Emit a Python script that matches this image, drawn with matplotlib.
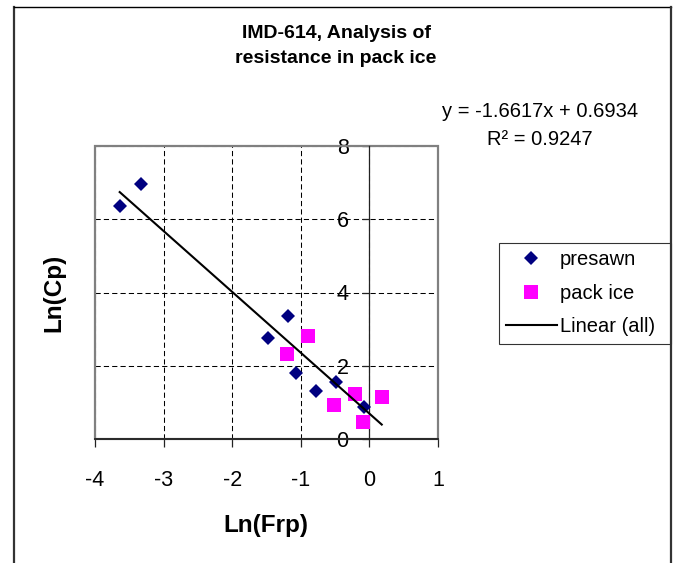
import matplotlib
matplotlib.use("Agg")
import matplotlib.pyplot as plt
from matplotlib.lines import Line2D
from matplotlib.patches import Rectangle
import numpy as np

plt.rcParams['font.family'] = ['Liberation Sans', 'DejaVu Sans']
plt.rcParams['axes.unicode_minus'] = False

# ---- data ----
presawn_x = [-3.64, -3.33, -1.19, -1.48, -1.07, -0.78, -0.49, -0.08]
presawn_y = [6.37, 6.96, 3.36, 2.77, 1.81, 1.32, 1.55, 0.88]
pack_x = [-0.90, -1.20, -0.21, -0.51, 0.18, -0.10]
pack_y = [2.81, 2.32, 1.23, 0.93, 1.15, 0.46]
slope = -1.6617
intercept = 0.6934
r2 = 0.9247
x_ticks = [-4, -3, -2, -1, 0, 1]
y_ticks = [0, 2, 4, 6, 8]

title = "IMD-614, Analysis of\nresistance in pack ice"
xlabel = "Ln(Frp)"
ylabel = "Ln(Cp)"

W, H = 676, 563
fig = plt.figure(figsize=(W / 100, H / 100), dpi=100)
ax = fig.add_axes([95 / W, 1 - 439 / H, 343 / W, 293 / H])

ax.set_xlim(-4, 1)
ax.set_ylim(0, 8)
ax.set_xticks(x_ticks)
ax.set_yticks(y_ticks)
ax.set_xticklabels([str(v) for v in x_ticks])
ax.set_yticklabels([str(v) for v in y_ticks])

for s in ['top', 'right']:
    ax.spines[s].set_visible(False)
ax.spines['left'].set_position(('data', 0))
ax.spines['left'].set_color('#222222')
ax.spines['left'].set_linewidth(0.9)
ax.spines['bottom'].set_color('#222222')
ax.spines['bottom'].set_linewidth(1.3)
ax.spines['left'].set_zorder(2.6)
ax.spines['bottom'].set_zorder(2.6)

ax.add_patch(Rectangle((0, 0), 1, 1, transform=ax.transAxes, fill=False,
                       ec='#808080', lw=1.6, clip_on=False, zorder=2.5))

ax.set_axisbelow(True)
ax.grid(True, color='black', lw=0.75, linestyle=(0, (5, 3)))

ax.tick_params(axis='y', direction='out', length=5, width=0.9, pad=10,
               labelsize=15.5, color='#222222')
ax.tick_params(axis='x', direction='out', length=5.5, width=0.9, pad=17,
               labelsize=15.5, color='#222222')

xs_all = np.array(presawn_x + pack_x)
xl = np.array([xs_all.min(), xs_all.max()])
ax.plot(xl, slope * xl + intercept, color='black', lw=1.5, zorder=4,
        label='Linear (all)')
ax.plot(presawn_x, presawn_y, linestyle='none', marker='D', ms=7.5,
        mfc='#000080', mec='#000080', mew=0, zorder=3, label='presawn')
ax.plot(pack_x, pack_y, linestyle='none', marker='s', ms=10.5,
        mfc='#FF00FF', mec='#FF00FF', mew=0, zorder=3, label='pack ice')

handles, labels = ax.get_legend_handles_labels()
order = [1, 2, 0]
leg = ax.legend([handles[i] for i in order], [labels[i] for i in order],
                loc='upper left', mode='expand',
                bbox_to_anchor=(499 / W, 0, 172 / W, 1 - 243 / H),
                bbox_transform=fig.transFigure, borderaxespad=0,
                fontsize=14.5, frameon=True, fancybox=False, shadow=False,
                handlelength=2.5, handletextpad=0.15, labelspacing=0.72,
                borderpad=0.36)
leg.get_frame().set_edgecolor('black')
leg.get_frame().set_linewidth(0.8)

fig.text(336 / W, 1 - 25 / H, title, ha='center', va='top', fontsize=14,
         fontweight='bold', linespacing=1.6)
fig.text(540 / W, 1 - 117 / H, f"y = {slope}x + {intercept}", ha='center',
         va='baseline', fontsize=14.5)
fig.text(540 / W, 1 - 145 / H, f"R\u00b2 = {r2}", ha='center',
         va='baseline', fontsize=14.5)
fig.text(266 / W, 1 - 532 / H, xlabel, ha='center', va='baseline',
         fontsize=17.5, fontweight='bold')
fig.text(54 / W, 1 - 293 / H, ylabel, ha='center', va='center',
         rotation=90, fontsize=17.5, fontweight='bold')

# chart area border (left, top, right)
fig.add_artist(Line2D([14 / W, 14 / W], [0, 1 - 7 / H], transform=fig.transFigure,
                      color='#333333', lw=1.6))
fig.add_artist(Line2D([14 / W, 671 / W], [1 - 7 / H, 1 - 7 / H],
                      transform=fig.transFigure, color='black', lw=1.0))
fig.add_artist(Line2D([671 / W, 671 / W], [0, 1 - 7 / H], transform=fig.transFigure,
                      color='#333333', lw=1.6))

fig.savefig('out.png', dpi=100)
